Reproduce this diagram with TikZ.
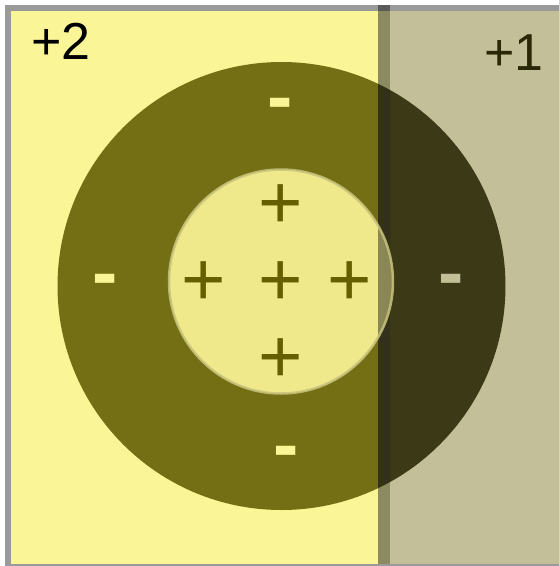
\documentclass[tikz,border=0pt]{standalone}
\usepackage{fontspec}
\setmainfont{Liberation Sans}
\definecolor{yellowbg}{HTML}{FAF597}
\definecolor{graybg}{HTML}{C3BF99}
\definecolor{bandc}{HTML}{8C8A60}
\definecolor{olive}{HTML}{746F14}
\definecolor{darkolive}{HTML}{3C3917}
\definecolor{banddark}{HTML}{34311A}
\definecolor{innerc}{HTML}{EFE98C}
\definecolor{innerband}{HTML}{8A8656}
\definecolor{innerrim}{HTML}{C9C47C}
\definecolor{plusc}{HTML}{665F00}
\definecolor{borderc}{HTML}{9A9A9A}
\definecolor{bordband}{HTML}{5A5A5A}
\definecolor{labone}{HTML}{2A2806}
\tikzset{
  sym/.style={font=\fontsize{76}{80}\selectfont, inner sep=0pt, outer sep=0pt, anchor=base},
  mn/.style={font=\bfseries\fontsize{76}{80}\selectfont, inner sep=0pt, outer sep=0pt, anchor=base},
  pl/.style={sym, text=plusc},
  lbl/.style={font=\fontsize{52}{56}\selectfont, inner sep=0pt, outer sep=0pt},
  bord/.style={draw=borderc, line width=6pt}
}
\begin{document}
\begin{tikzpicture}[x=1pt,y=-1pt]
\useasboundingbox (0,0) rectangle (558,566);
\fill[white] (0,0) rectangle (558,566);
% backgrounds
\fill[yellowbg] (8,7.5) rectangle (378,566);
\fill[graybg] (390,7.5) rectangle (562,566);
\fill[bandc] (378,7.5) rectangle (390,566);
% big circle in three parts
\begin{scope}
  \clip (0,0) rectangle (378,566);
  \fill[olive] (281.5,286) circle[radius=224];
\end{scope}
\begin{scope}
  \clip (390,0) rectangle (600,566);
  \fill[darkolive] (281.5,286) circle[radius=224];
\end{scope}
\begin{scope}
  \clip (378,0) rectangle (390,566);
  \fill[banddark] (281.5,286) circle[radius=224];
\end{scope}
% inner circle
\begin{scope}
  \clip (0,0) rectangle (378,566);
  \fill[innerc] (281,281.5) circle[radius=112];
\end{scope}
\begin{scope}
  \clip (378,0) rectangle (600,566);
  \fill[innerband] (281,281.5) circle[radius=112];
\end{scope}
\draw[innerrim, line width=2.5pt, opacity=0.85] (281,281.5) circle[radius=112];
% borders
\draw[bord] (5,7.5) -- (562,7.5);
\draw[bord] (8,4.5) -- (8,570);
\draw[bord] (5,567) -- (562,567);
\fill[bordband] (378,4.5) rectangle (390,10.5);
% minus holes
\node[mn, text=yellowbg] (mt) at (280.5,122) {-};
\node[mn, text=yellowbg] (ml) at (105.5,298.5) {-};
\node[mn, text=yellowbg] (mb) at (286.5,470.5) {-};
\node[mn, text=graybg] (mr) at (451.5,298.7) {-};
% pluses
\node[pl] (pc) at (280.7,305.5) {+};
\node[pl] (pt) at (280.7,228.1) {+};
\node[pl] (pleft) at (203.3,305.5) {+};
\node[pl] (pright) at (350,305.5) {+};
\node[pl] (pb) at (280.7,382.8) {+};
% labels
\node[lbl, anchor=base west] (two) at (31,59.3) {+2};
\node[lbl, anchor=base east, text=labone] (one) at (543.5,70.5) {+1};
\end{tikzpicture}
\end{document}
